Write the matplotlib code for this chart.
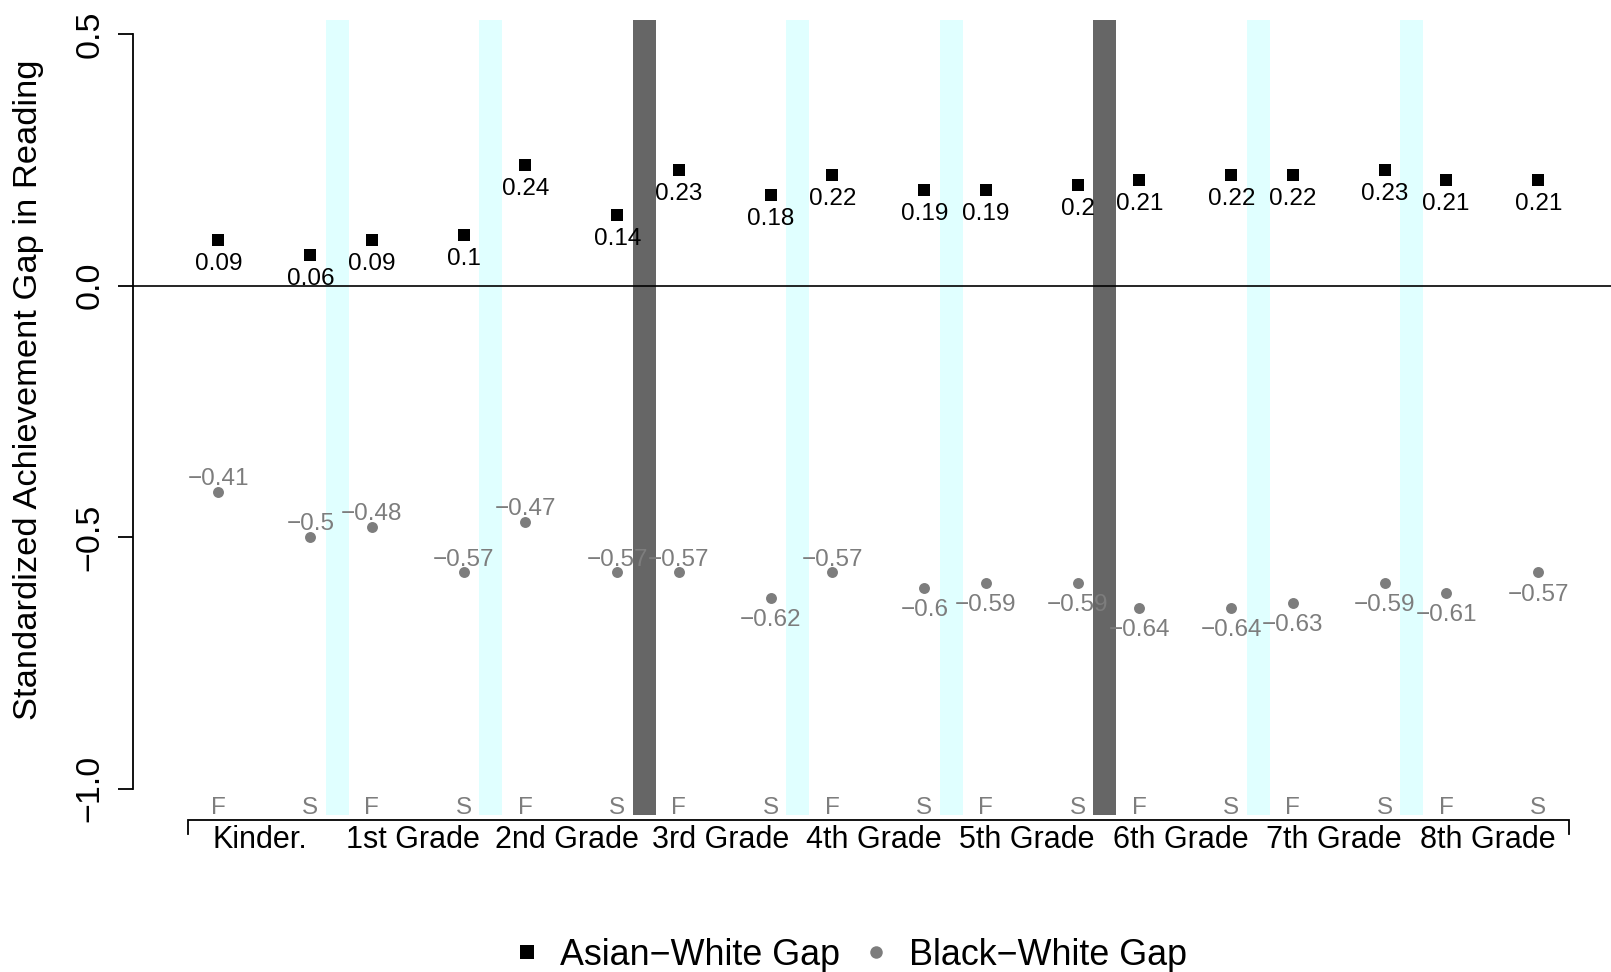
import matplotlib
matplotlib.use("Agg")
import matplotlib.pyplot as plt
from matplotlib.lines import Line2D

plt.rcParams['font.family'] = ['Liberation Sans', 'DejaVu Sans']

# ---------------- data ----------------
grades = ["Kinder.", "1st Grade", "2nd Grade", "3rd Grade", "4th Grade",
          "5th Grade", "6th Grade", "7th Grade", "8th Grade"]
seasons = ["F", "S"]
asian_white_gap = [0.09, 0.06, 0.09, 0.10, 0.24, 0.14, 0.23, 0.18, 0.22,
                   0.19, 0.19, 0.20, 0.21, 0.22, 0.22, 0.23, 0.21, 0.21]
black_white_gap = [-0.41, -0.50, -0.48, -0.57, -0.47, -0.57, -0.57, -0.62, -0.57,
                   -0.60, -0.59, -0.59, -0.64, -0.64, -0.63, -0.59, -0.61, -0.57]
black_label_above = [True, True, True, True, True, True, True, False, True,
                     False, False, False, False, False, False, False, False, False]
# break after spring of each grade (except last): summer or school transition
break_type = ["summer", "summer", "transition", "summer", "summer",
              "transition", "summer", "summer"]
y_ticks = [-1.0, -0.5, 0.0, 0.5]
y_tick_labels = ["\u22121.0", "\u22120.5", "0.0", "0.5"]

# ---------------- layout ----------------
W, H = 1611, 972
fig = plt.figure(figsize=(W / 100, H / 100), dpi=100)
ax_left, ax_right, ax_top, ax_bot = 133, 1611, 20, 815
ax = fig.add_axes([ax_left / W, 1 - ax_bot / H, (ax_right - ax_left) / W, (ax_bot - ax_top) / H])

ylim = (-1.052, 0.528)
xlim = (-2.78, 45.37)
ax.set_xlim(*xlim)
ax.set_ylim(*ylim)

# x positions: fall at 5*g, spring at 5*g+3
xs = []
for g in range(len(grades)):
    for s in seasons:
        xs.append(5 * g + (0 if s == "F" else 3))

gray = "#7d7d7d"

# bands
for g, bt in enumerate(break_type):
    s_x = 5 * g + 3
    col = "#E0FFFF" if bt == "summer" else "#666666"
    ax.axvspan(s_x + 0.5, s_x + 1.25, color=col, lw=0, zorder=0)

ax.axhline(0, color="black", lw=1.2, zorder=1)

def fmt(v):
    return f"{round(v, 2):g}".replace("-", "\u2212")

ax.scatter(xs, asian_white_gap, marker="s", s=68, color="black", lw=0, zorder=3)
ax.scatter(xs, black_white_gap, marker="o", s=62, color=gray, lw=0, zorder=3)

for x, v in zip(xs, asian_white_gap):
    ax.annotate(fmt(v), (x, v), xytext=(0, -21.5), textcoords="offset points",
                ha="center", va="baseline", fontsize=17.5, color="black", zorder=4)
for x, v, above in zip(xs, black_white_gap, black_label_above):
    dy = 5 if above else -20.5
    ax.annotate(fmt(v), (x, v), xytext=(0, dy), textcoords="offset points",
                ha="center", va="baseline", fontsize=17.5, color=gray, zorder=4)

# F / S labels
k = 0
for g in range(len(grades)):
    for s in seasons:
        ax.text(xs[k], -1.050, s, ha="center", va="baseline", fontsize=17.5, color=gray)
        k += 1

# bracket below
px_per_unit = (ax_bot - ax_top) / (ylim[1] - ylim[0])
def py(p):
    return ylim[0] - (p - ax_bot) / px_per_unit
ax.plot([-1, -1, 44, 44], [py(834), py(820), py(820), py(834)], color="black",
        lw=1.3, clip_on=False, solid_joinstyle="miter")

for g, name in enumerate(grades):
    ax.text(5 * g + 1.35, py(848), name, ha="center", va="baseline", fontsize=22,
            color="black", clip_on=False)

# axes styling
for sp in ["top", "right", "bottom"]:
    ax.spines[sp].set_visible(False)
ax.spines["left"].set_bounds(-1.0, 0.5)
ax.spines["left"].set_linewidth(1.3)
ax.set_xticks([])
ax.set_yticks(y_ticks)
ax.set_yticklabels(y_tick_labels, rotation=90, va="center", fontsize=24.5)
ax.tick_params(axis="y", length=10.8, width=1.3, pad=9)

fig.text(29 / W, 1 - 390 / H, "Standardized Achievement Gap in Reading",
         rotation=90, ha="center", va="center", fontsize=24.8)

handles = [
    Line2D([], [], marker="s", ls="none", color="black", markersize=9.5, markeredgewidth=0),
    Line2D([], [], marker="o", ls="none", color=gray, markersize=9, markeredgewidth=0),
]
fig.legend(handles, ["Asian\u2212White Gap", "Black\u2212White Gap"], loc="center",
           bbox_to_anchor=(852 / W, 1 - 955 / H), ncol=2, frameon=False,
           fontsize=25.8, handlelength=0.6, handletextpad=0.62, columnspacing=0.7,
           borderpad=0)

fig.savefig("out.png", dpi=100)
